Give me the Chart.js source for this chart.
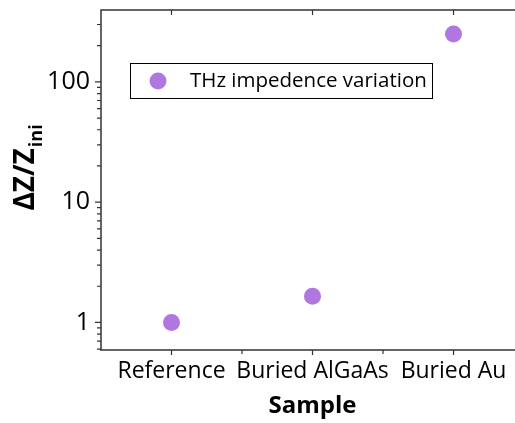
<!DOCTYPE html>
<html>
<head>
<meta charset="utf-8">
<script src="https://cdn.jsdelivr.net/npm/chart.js@4.4.0/dist/chart.umd.min.js"></script>
<style>
  html, body { margin: 0; padding: 0; overflow: hidden; background: #fff; }
  canvas { display: block; }
</style>
</head>
<body>
<canvas id="chart" width="515" height="423"></canvas>
<script>
// data
const samples = ["Reference", "Buried AlGaAs", "Buried Au"];
const impedanceVariation = [1.0, 1.65, 250];
const seriesLabel = "THz impedence variation";
const xTitle = "Sample";
const yMajorTicks = [1, 10, 100];
const yMinorTicks = [0.6, 0.7, 0.8, 0.9, 2, 3, 4, 5, 6, 7, 8, 9, 20, 30, 40, 50, 60, 70, 80, 90, 200, 300];
const xMinorTicks = [0.5, 1.5];

const FONT = "'Open Sans', sans-serif";
const AXIS_COLOR = "#333";
const POINT_COLOR = "#b077e0";

function noPad(s) {
  s.paddingTop = 0; s.paddingBottom = 0; s.paddingLeft = 0; s.paddingRight = 0;
}

// axis frame, tick marks, legend and titles, origin style
const frameTicks = {
  id: "frameTicks",
  afterDraw(chart) {
    const { ctx, chartArea: a, scales: { x, y } } = chart;
    ctx.save();
    ctx.strokeStyle = AXIS_COLOR;
    ctx.lineWidth = 1.5;
    ctx.beginPath();
    ctx.moveTo(a.left, a.bottom); ctx.lineTo(a.left, a.top); ctx.lineTo(a.right, a.top);
    ctx.moveTo(a.left - 1, a.bottom); ctx.lineTo(a.right, a.bottom);
    ctx.stroke();

    ctx.lineWidth = 1.2;
    ctx.beginPath();
    yMajorTicks.forEach(v => { const p = y.getPixelForValue(v); ctx.moveTo(a.left, p); ctx.lineTo(a.left - 6, p); });
    yMinorTicks.forEach(v => { const p = y.getPixelForValue(v); ctx.moveTo(a.left, p); ctx.lineTo(a.left - 4, p); });
    samples.forEach((s, i) => {
      const p = x.getPixelForValue(i);
      ctx.moveTo(p, a.bottom); ctx.lineTo(p, a.bottom + 5);
      ctx.moveTo(p, a.top); ctx.lineTo(p, a.top + 5);
    });
    xMinorTicks.forEach(v => { const p = x.getPixelForValue(v); ctx.moveTo(p, a.bottom); ctx.lineTo(p, a.bottom + 4); });
    ctx.stroke();

    // legend box inside the plot
    const ds = chart.data.datasets[0];
    const lx = a.left + 29, ly = a.top + 53;
    ctx.lineWidth = 1;
    ctx.strokeStyle = "#000";
    ctx.strokeRect(lx + 0.5, ly + 0.5, 302, 35);
    ctx.fillStyle = ds.backgroundColor;
    ctx.beginPath();
    ctx.arc(lx + 28, ly + 18, 8.5, 0, Math.PI * 2);
    ctx.fill();
    ctx.fillStyle = "#000";
    ctx.font = "20.5px " + FONT;
    ctx.textBaseline = "middle";
    ctx.fillText(ds.label, lx + 60, ly + 18);

    // x title, centred on the full -0.5..2.5 range
    ctx.textAlign = "center";
    ctx.textBaseline = "alphabetic";
    ctx.font = "bold 24px " + FONT;
    ctx.fillText(xTitle, x.getPixelForValue(1), 413);

    // y title with subscript
    ctx.textAlign = "left";
    ctx.translate(34, (a.top + a.bottom) / 2 - 12);
    ctx.rotate(-Math.PI / 2);
    ctx.font = "bold 28px " + FONT;
    const main = "\u0394Z/Z";
    const w1 = ctx.measureText(main).width;
    ctx.font = "bold 18px " + FONT;
    const w2 = ctx.measureText("ini").width;
    const start = -(w1 + w2) / 2;
    ctx.font = "bold 28px " + FONT;
    ctx.fillText(main, start, 0);
    ctx.font = "bold 18px " + FONT;
    ctx.fillText("ini", start + w1 + 1, 8);
    ctx.restore();
  }
};

new Chart(document.getElementById("chart"), {
  type: "scatter",
  data: {
    datasets: [{
      label: seriesLabel,
      data: impedanceVariation.map((v, i) => ({ x: i, y: v })),
      backgroundColor: POINT_COLOR,
      borderWidth: 0,
      pointRadius: 8.5,
      pointHoverRadius: 8.5,
    }]
  },
  options: {
    responsive: false,
    animation: false,
    layout: { autoPadding: false, padding: { top: 10, right: 0, left: 0, bottom: 0 } },
    plugins: { legend: { display: false }, tooltip: { enabled: false } },
    scales: {
      x: {
        // right frame of the original sits just outside the picture
        type: "linear", min: -0.5, max: 2.436,
        afterFit: s => { s.height = 73; noPad(s); },
        afterBuildTicks: s => { s.ticks = samples.map((_, i) => ({ value: i })); },
        grid: { display: false, drawTicks: false },
        border: { display: false },
        ticks: { callback: v => samples[v], color: "#000", font: { family: FONT, size: 23 }, padding: 8, maxRotation: 0 },
      },
      y: {
        type: "logarithmic", min: 0.59, max: 396,
        afterFit: s => { s.width = 101; noPad(s); },
        afterBuildTicks: s => { s.ticks = yMajorTicks.map(v => ({ value: v })); },
        grid: { display: false, drawTicks: false },
        border: { display: false },
        ticks: { callback: v => String(v), color: "#000", font: { family: FONT, size: 25 }, padding: 11 },
      }
    }
  },
  plugins: [frameTicks]
});
</script>
</body>
</html>
